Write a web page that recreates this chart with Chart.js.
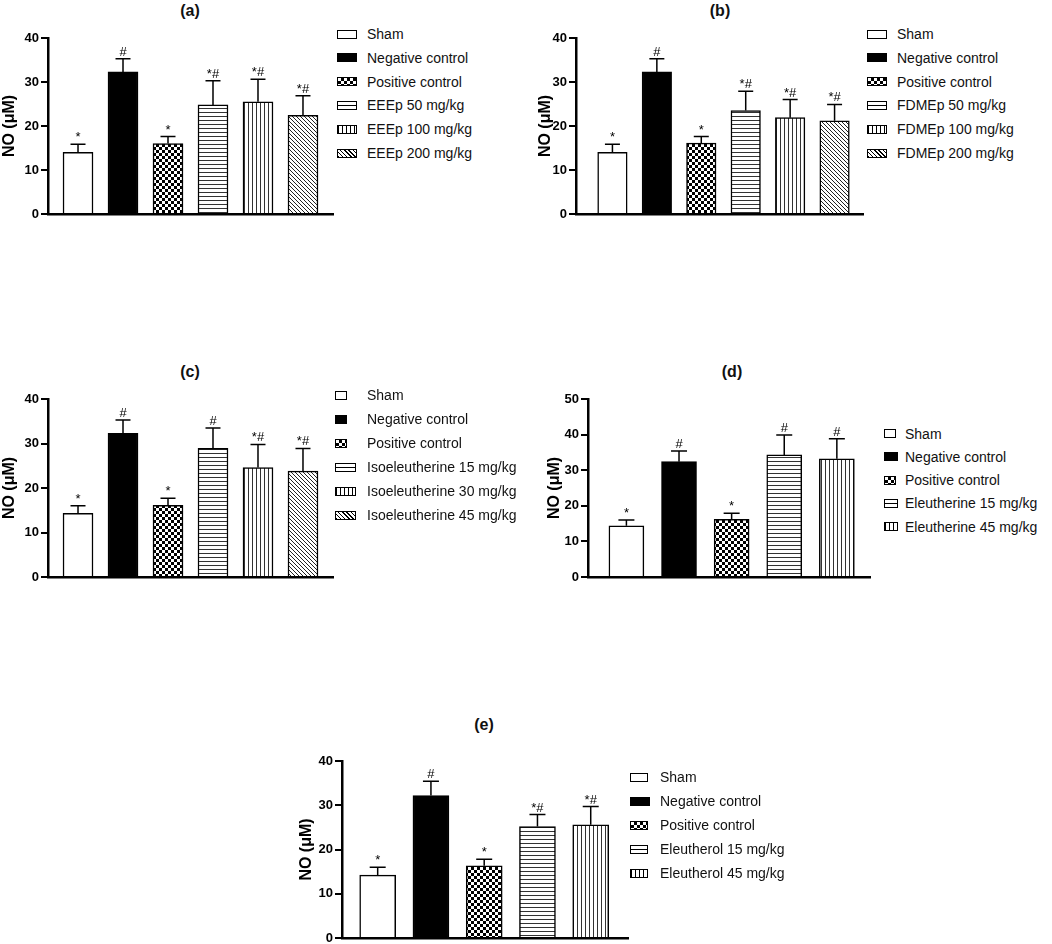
<!DOCTYPE html>
<html>
<head>
<meta charset="utf-8">
<script src="https://cdn.jsdelivr.net/npm/chart.js@4.4.1/dist/chart.umd.min.js"></script>
<style>
  html, body { margin:0; padding:0; background:#fff; }
  body { width:1052px; height:944px; position:relative; overflow:hidden; font-family:"Liberation Sans", Arial, sans-serif; color:#111; }
  canvas.pc { position:absolute; z-index:1; }
  .ptitle { position:absolute; font-weight:bold; font-size:16px; line-height:18px; transform:translateX(-50%); white-space:nowrap; z-index:2; }
  .lgtext { position:absolute; font-size:14px; line-height:16px; white-space:nowrap; z-index:3; }
  .lgbox { position:absolute; box-sizing:border-box; border:1px solid #000; background:#fff; z-index:3; }
</style>
</head>
<body>
<script>
// ---------------- DATA ----------------
const yTicks40 = [0, 10, 20, 30, 40];
const yTicks50 = [0, 10, 20, 30, 40, 50];
const yAxisTitle = "NO (μM)";

const groupsA = ["Sham", "Negative control", "Positive control", "EEEp 50 mg/kg", "EEEp 100 mg/kg", "EEEp 200 mg/kg"];
const meanA   = [14.0, 32.3, 16.0, 24.8, 25.5, 22.4];
const errA    = [1.85, 3.0, 1.6, 5.5, 5.1, 4.5];
const sigA    = ["*", "#", "*", "*#", "*#", "*#"];

const groupsB = ["Sham", "Negative control", "Positive control", "FDMEp 50 mg/kg", "FDMEp 100 mg/kg", "FDMEp 200 mg/kg"];
const meanB   = [14.0, 32.3, 16.1, 23.5, 21.9, 21.2];
const errB    = [1.85, 3.0, 1.5, 4.4, 4.1, 3.7];
const sigB    = ["*", "#", "*", "*#", "*#", "*#"];

const groupsC = ["Sham", "Negative control", "Positive control", "Isoeleutherine 15 mg/kg", "Isoeleutherine 30  mg/kg", "Isoeleutherine 45  mg/kg"];
const meanC   = [14.3, 32.3, 16.1, 28.9, 24.6, 23.8];
const errC    = [1.7, 3.0, 1.6, 4.6, 5.2, 5.1];
const sigC    = ["*", "#", "*", "#", "*#", "*#"];

const groupsD = ["Sham", "Negative control", "Positive control", "Eleutherine 15 mg/kg", "Eleutherine 45  mg/kg"];
const meanD   = [14.4, 32.4, 16.2, 34.3, 33.2];
const errD    = [1.6, 3.0, 1.7, 5.6, 5.6];
const sigD    = ["*", "#", "*", "#", "#"];

const groupsE = ["Sham", "Negative control", "Positive control", "Eleutherol 15 mg/kg", "Eleutherol 45 mg/kg"];
const meanE   = [14.2, 32.2, 16.3, 25.2, 25.6];
const errE    = [1.8, 3.2, 1.5, 2.7, 4.1];
const sigE    = ["*", "#", "*", "*#", "*#"];

const fills6 = ["open", "solid", "check", "hline", "vline", "diag"];
const fills5 = ["open", "solid", "check", "hline", "vline"];

// ---------------- LAYOUT ----------------
const panels = [
  { title:"(a)", titleX:190, titleY:11, groups:groupsA, mean:meanA, err:errA, sig:sigA, fills:fills6, ticks:yTicks40,
    axisX:48, topY:38, zeroY:214, endX:333, labelCX:10, xmin:-0.667, xmax:5.667, barW:30, capW:15,
    lg:{ y0:34, step:23.8, boxX:337, boxW:[20,20,20,20,20,20], boxH:9, textX:367 } },
  { title:"(b)", titleX:720, titleY:11, groups:groupsB, mean:meanB, err:errB, sig:sigB, fills:fills6, ticks:yTicks40,
    axisX:576, topY:38, zeroY:214, endX:863, labelCX:546, xmin:-0.82, xmax:5.64, barW:29.5, capW:15,
    lg:{ y0:34, step:23.8, boxX:867, boxW:[20,20,20,20,20,20], boxH:9, textX:897 } },
  { title:"(c)", titleX:190, titleY:372, groups:groupsC, mean:meanC, err:errC, sig:sigC, fills:fills6, ticks:yTicks40,
    axisX:48, topY:399, zeroY:577, endX:333, labelCX:10, xmin:-0.667, xmax:5.667, barW:30, capW:15,
    lg:{ y0:395, step:24, boxX:335, boxW:[12,12,12,21,21,21], boxH:9, textX:367 } },
  { title:"(d)", titleX:732, titleY:372, groups:groupsD, mean:meanD, err:errD, sig:sigD, fills:fills5, ticks:yTicks50,
    axisX:588, topY:399, zeroY:577, endX:870, labelCX:555, xmin:-0.73, xmax:4.63, barW:35, capW:16,
    lg:{ y0:433.5, step:23.3, boxX:884, boxW:[12,14,12,14,14], boxH:9, textX:905 } },
  { title:"(e)", titleX:484, titleY:725, groups:groupsE, mean:meanE, err:errE, sig:sigE, fills:fills5, ticks:yTicks40,
    axisX:342, topY:761, zeroY:938, endX:628, labelCX:307, xmin:-0.67, xmax:4.70, barW:36, capW:16,
    lg:{ y0:777, step:24, boxX:630, boxW:[18,20,18,18,18], boxH:9, textX:660 } }
];

// ---------------- HELPERS ----------------
function makeFill(kind) {
  if (kind === "open") return "#ffffff";
  if (kind === "solid") return "#000000";
  const c = document.createElement("canvas");
  const g = c.getContext("2d");
  if (kind === "check") {
    c.width = 6; c.height = 6;
    g.fillStyle = "#fff"; g.fillRect(0,0,6,6);
    g.fillStyle = "#000"; g.fillRect(0,0,3,3); g.fillRect(3,3,3,3);
  } else if (kind === "hline") {
    c.width = 4; c.height = 4;
    g.fillStyle = "#fff"; g.fillRect(0,0,4,4);
    g.fillStyle = "#333"; g.fillRect(0,0,4,1);
  } else if (kind === "vline") {
    c.width = 4; c.height = 4;
    g.fillStyle = "#fff"; g.fillRect(0,0,4,4);
    g.fillStyle = "#333"; g.fillRect(0,0,1,4);
  } else if (kind === "diag") {
    c.width = 4; c.height = 4;
    g.fillStyle = "#fff"; g.fillRect(0,0,4,4);
    g.strokeStyle = "#222"; g.lineWidth = 1;
    g.beginPath();
    for (let k = -1; k <= 1; k++) { g.moveTo(k*4, 0); g.lineTo(k*4 + 4, 4); }
    g.stroke();
  }
  return g.createPattern(c, "repeat");
}

function cssFill(kind) {
  switch (kind) {
    case "solid": return "#000";
    case "check": return "conic-gradient(#000 0 90deg, #fff 90deg 180deg, #000 180deg 270deg, #fff 270deg 360deg) 0 0 / 6px 6px";
    case "hline": return "linear-gradient(#000, #000) center / 100% 1px no-repeat, #fff";
    case "vline": return "repeating-linear-gradient(90deg, #000 0 1px, #fff 1px 4px)";
    case "diag":  return "repeating-linear-gradient(45deg, #000 0 1px, #fff 1px 3px)";
    default: return "#fff";
  }
}

function errorBarPlugin(means, errs, sigs, capW) {
  return {
    id: "errorBars",
    afterDatasetsDraw(chart) {
      const ctx = chart.ctx, xs = chart.scales.x, ys = chart.scales.y;
      ctx.save();
      ctx.strokeStyle = "#000"; ctx.lineWidth = 1.5; ctx.fillStyle = "#000";
      ctx.font = '13px "Liberation Sans", Arial, sans-serif';
      ctx.textAlign = "center"; ctx.textBaseline = "alphabetic";
      means.forEach((m, i) => {
        const cx = xs.getPixelForValue(i);
        const yTop = ys.getPixelForValue(m);
        const yErr = ys.getPixelForValue(m + errs[i]);
        ctx.beginPath();
        ctx.moveTo(cx, yTop); ctx.lineTo(cx, yErr);
        ctx.moveTo(cx - capW/2, yErr); ctx.lineTo(cx + capW/2, yErr);
        ctx.stroke();
        ctx.fillText(sigs[i], cx, yErr - 3);
      });
      ctx.restore();
    }
  };
}

function addText(cls, text, left, top) {
  const d = document.createElement("div");
  d.className = cls; d.textContent = text;
  d.style.left = left + "px"; d.style.top = top + "px";
  document.body.appendChild(d);
  return d;
}

// ---------------- BUILD ----------------
const PAD_T = 14, PAD_B = 14, PAD_R = 3, TITLE_SIZE = 16, TITLE_LH = 1.2;

panels.forEach((p) => {
  const left = Math.round(p.labelCX - TITLE_SIZE * TITLE_LH / 2);
  const top = p.topY - PAD_T;
  const width = p.endX - left + PAD_R;
  const height = (p.zeroY - p.topY) + PAD_T + PAD_B;
  const cv = document.createElement("canvas");
  cv.className = "pc";
  cv.width = width; cv.height = height;
  cv.style.left = left + "px"; cv.style.top = top + "px";
  cv.style.width = width + "px"; cv.style.height = height + "px";
  document.body.appendChild(cv);

  const yWidth = p.axisX - left;
  const ymax = p.ticks[p.ticks.length - 1];

  new Chart(cv.getContext("2d"), {
    type: "bar",
    data: {
      datasets: [{
        data: p.mean.map((v, i) => ({ x: i, y: v })),
        backgroundColor: p.fills.map(makeFill),
        borderColor: "#000",
        borderWidth: 1.5,
        barThickness: p.barW
      }]
    },
    options: {
      responsive: false,
      animation: false,
      devicePixelRatio: 1,
      layout: { padding: { left: 0, top: PAD_T, bottom: PAD_B, right: PAD_R } },
      plugins: { legend: { display: false }, tooltip: { enabled: false }, title: { display: false } },
      scales: {
        x: {
          type: "linear", min: p.xmin, max: p.xmax, offset: false, bounds: "data",
          ticks: { display: false },
          grid: { display: false, offset: false },
          border: { display: true, color: "#000", width: 2.5 },
          afterFit(s) { s.height = 0; }
        },
        y: {
          type: "linear", min: 0, max: ymax,
          afterBuildTicks(s) { s.ticks = p.ticks.map(v => ({ value: v })); },
          ticks: { color: "#000", padding: 2, font: { family: '"Liberation Sans", Arial, sans-serif', size: 13, weight: "bold" } },
          grid: { display: true, drawOnChartArea: false, drawTicks: true, tickLength: 7, color: "#000", lineWidth: 2 },
          border: { display: true, color: "#000", width: 2.5 },
          title: { display: true, text: yAxisTitle, color: "#000", padding: 0,
                   font: { family: '"Liberation Sans", Arial, sans-serif', size: TITLE_SIZE, weight: "bold", lineHeight: TITLE_LH } },
          afterFit(s) { s.width = yWidth; }
        }
      }
    },
    plugins: [errorBarPlugin(p.mean, p.err, p.sig, p.capW)]
  });

  addText("ptitle", p.title, p.titleX, p.titleY - 9);

  p.groups.forEach((g, i) => {
    const cy = p.lg.y0 + i * p.lg.step;
    const b = document.createElement("div");
    b.className = "lgbox";
    b.style.left = p.lg.boxX + "px";
    b.style.top = (cy - p.lg.boxH / 2) + "px";
    b.style.width = p.lg.boxW[i] + "px";
    b.style.height = p.lg.boxH + "px";
    b.style.background = cssFill(p.fills[i]);
    document.body.appendChild(b);
    addText("lgtext", g, p.lg.textX, cy - 8);
  });
});
</script>
</body>
</html>
